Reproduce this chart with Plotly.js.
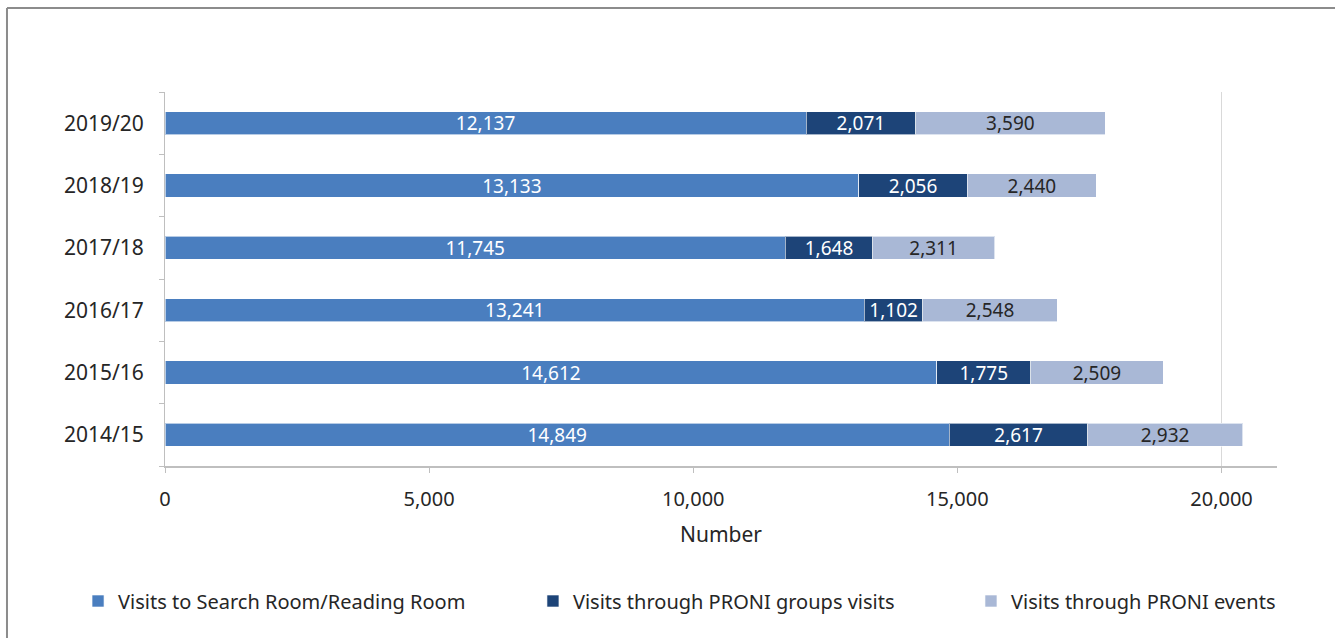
<!DOCTYPE html>
<html>
<head>
<meta charset="utf-8">
<script src="https://cdn.plot.ly/plotly-3.0.1.min.js"></script>
<style>html,body{margin:0;padding:0;background:#fff;}#chart{width:1335px;height:638px;}</style>
</head>
<body>
<div id="chart"></div>
<script>
const years = ["2014/15", "2015/16", "2016/17", "2017/18", "2018/19", "2019/20"];
const searchRoom = [14849, 14612, 13241, 11745, 13133, 12137];
const groupVisits = [2617, 1775, 1102, 1648, 2056, 2071];
const events = [2932, 2509, 2548, 2311, 2440, 3590];
const seriesNames = ["Visits to Search Room/Reading Room", "Visits through PRONI groups visits", "Visits through PRONI events"];
const xTicks = [0, 5000, 10000, 15000, 20000];

const font = "Noto Sans, Open Sans, sans-serif";
const colors = ["#4a7ebf", "#1d4478", "#a9b8d6"];
const textColors = ["#ffffff", "#ffffff", "#262626"];
const seriesVals = [searchRoom, groupVisits, events];
const legendIds = ["legend", "legend2", "legend3"];

const traces = seriesVals.map((vals, i) => ({
  type: "bar",
  orientation: "h",
  name: seriesNames[i],
  legend: legendIds[i],
  y: years,
  x: vals,
  width: 0.37,
  marker: {color: colors[i], line: {color: "rgba(255,255,255,0.6)", width: 1}},
  texttemplate: "%{x:,}",
  textposition: "inside",
  insidetextanchor: "middle",
  constraintext: "none",
  textfont: {family: font, size: 19, color: textColors[i]},
  hoverinfo: "x+name"
}));

function legendAt(x) {
  return {
    orientation: "h",
    x: x, xanchor: "left",
    y: -0.361, yanchor: "middle",
    font: {family: font, size: 20, color: "#262626"},
    bgcolor: "rgba(0,0,0,0)",
    itemwidth: 30
  };
}

const layout = {
  width: 1335, height: 638,
  barmode: "stack",
  paper_bgcolor: "#ffffff",
  plot_bgcolor: "#ffffff",
  margin: {l: 165, r: 58, t: 92, b: 172},
  font: {family: font, size: 15, color: "#262626"},
  xaxis: {
    range: [0, 21050],
    tickvals: xTicks,
    tickformat: ",",
    showgrid: false,
    zeroline: false,
    showline: true,
    linecolor: "#bfbfbf",
    linewidth: 2,
    ticks: "outside",
    ticklen: 5,
    tickcolor: "#bfbfbf",
    ticklabelstandoff: 9,
    tickfont: {family: font, size: 20, color: "#262626"},
    title: {text: "Number", font: {family: font, size: 21, color: "#262626"}, standoff: 16}
  },
  yaxis: {
    type: "category",
    categoryorder: "array",
    categoryarray: years,
    showgrid: false,
    zeroline: false,
    showline: true,
    linecolor: "#bfbfbf",
    linewidth: 1,
    ticks: "outside",
    tickson: "boundaries",
    ticklen: 5,
    tickcolor: "#bfbfbf",
    ticklabelstandoff: 16,
    tickfont: {family: font, size: 21, color: "#262626"}
  },
  showlegend: true,
  legend: legendAt(-0.0782),
  legend2: legendAt(0.3309),
  legend3: legendAt(0.7248),
  shapes: [
    {type: "line", xref: "x", yref: "paper", x0: 20000, x1: 20000, y0: 0, y1: 1, line: {color: "#d9d9d9", width: 1}, layer: "below"},
    {type: "line", xref: "paper", yref: "paper", x0: -0.1421, x1: 1.06, y0: 1.2245, y1: 1.2245, line: {color: "#8c8c8c", width: 2}},
    {type: "line", xref: "paper", yref: "paper", x0: -0.1421, x1: -0.1421, y0: 1.2245, y1: -0.47, line: {color: "#8c8c8c", width: 2}}
  ]
};

Plotly.newPlot("chart", traces, layout, {displayModeBar: false, staticPlot: true});
</script>
</body>
</html>
